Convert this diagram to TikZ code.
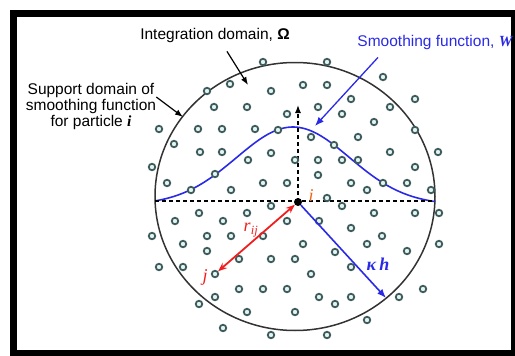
\documentclass[tikz,border=0pt]{standalone}
\usepackage{fontspec}
\setmainfont{Liberation Sans}
\newfontfamily\timesf{Liberation Serif}
\usetikzlibrary{arrows.meta}
\definecolor{wblue}{HTML}{2A2AE6}
\definecolor{rred}{HTML}{F01E1E}
\definecolor{iorange}{HTML}{E8641E}
\definecolor{dotline}{HTML}{3F5C5C}
\definecolor{dotfill}{HTML}{E4F4F2}

\begin{document}
\begin{tikzpicture}[x=1pt,y=-1pt,
lbl/.style={font=\fontsize{15.5}{16}\selectfont,align=center,inner sep=0pt},
sym/.style={font=\timesf\itshape\fontsize{18}{18}\selectfont,inner sep=0pt},
ptc/.style={circle,draw=dotline,fill=dotfill,line width=1.8pt,minimum size=6.5pt,inner sep=0pt},
arr/.style={-{Latex[length=8pt,width=6pt]},line width=1.2pt},
barr/.style={-{Latex[length=9pt,width=7pt]},line width=1.6pt,wblue},
rarr/.style={{Stealth[length=9pt,width=7pt]}-{Stealth[length=9pt,width=7pt]},line width=1.8pt,rred},
dsh/.style={dash pattern=on 4pt off 3pt,line width=1.3pt}]

\useasboundingbox (0,0) rectangle (515,356);
\draw[line width=7pt] (13.5,13.5) rectangle (514.5,353.5);

\draw[line width=1.5pt,black!80] (295,196.5) ellipse [x radius=140pt,y radius=134pt];
\draw[wblue,line width=1.6pt] plot[domain=155:435,samples=90]
  (\x,{201-74*(exp(-(((\x-293)/80)^2))-0.05)/0.95});

\coordinate (ic) at (298,202);
\coordinate (wl) at (155,201);
\coordinate (wr) at (435,201);
\coordinate (vtop) at (298,105);
\coordinate (kh) at (386,298);
\draw[dsh] (wl) -- (wr);
\draw[dsh,-{Latex[length=8pt,width=6pt]}] (ic) -- (vtop);

\foreach \px/\py [count=\k] in {263/62,327/62,383/77,230/84,303/85,327/85,207/91,271/91,
  351/99,415/99,214/107,247/107,318/107,390/107,287/114,342/114,
  374/122,159/129,198/129,222/129,255/129,278/130,415/130,
  311/137,358/137,174/144,334/145,200/152,222/152,271/153,390/152,438/152,
  248/160,295/160,318/160,342/160,358/160,152/167,415/167,215/174,318/175,
  167/183,263/183,287/183,351/183,383/183,407/183,191/190,231/190,367/190,431/190,
  327/198,271/206,342/206,199/213,247/213,374/213,415/213,439/213,
  175/221,223/221,287/221,319/221,351/228,152/236,207/236,231/236,263/236,382/236,
  183/244,303/244,367/244,439/244,207/251,335/252,407/251,239/259,271/259,295/259,
  159/267,183/267,351/267,311/274,239/289,263/289,287/289,423/289,
  215/297,319/297,351/297,399/297,199/304,335/304,247/312,295/312,367/320,
  223/328,271/335,327/335}
  \node[ptc] (p\k) at (\px,\py) {};
\node[ptc] (pj) at (215,274) {};
\node[circle,fill=black,minimum size=8pt,inner sep=0pt] (pi) at (ic) {};

\draw[rarr] (pi) -- (pj);
\draw[barr] (pi) -- (kh);

\node[lbl] (intlbl) at (215,35) {Integration domain, \textbf{Ω}};
\node[lbl,text=wblue] (smlbl) at (435,42) {Smoothing function, {\timesf\bfseries\itshape W}};
\node[lbl] (suplbl) at (91,106) {Support domain of\\smoothing function\\for particle {\timesf\bfseries\itshape i}};
\coordinate (inte) at (248,85);
\coordinate (supe) at (183,117);
\coordinate (sme) at (315,126);
\draw[arr] ([xshift=12pt,yshift=-9pt]intlbl.south) -- (inte);
\draw[arr] ([yshift=9pt]suplbl.east) -- (supe);
\draw[barr,line width=1.3pt] ([xshift=-57pt,yshift=-8pt]smlbl.south) -- (sme);

\node[sym,text=iorange] (ilbl) at (311,196) {i};
\node[sym,text=rred] (jlbl) at (205,277) {j};
\node[sym,text=rred] (rlbl) at (251,230) {r\textsubscript{ij}};
\node[sym,text=wblue,font=\timesf\bfseries\itshape\fontsize{18}{18}\selectfont] (klbl) at (378,264) {κ\,h};
\end{tikzpicture}
\end{document}
